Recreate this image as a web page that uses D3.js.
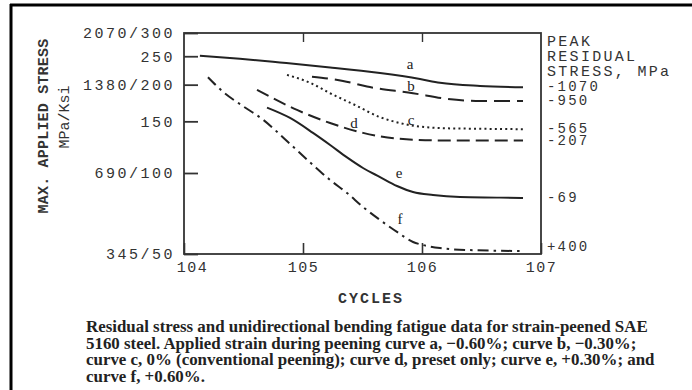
<!DOCTYPE html>
<html>
<head>
<meta charset="utf-8">
<script src="https://cdn.jsdelivr.net/npm/d3@7"></script>
<style>
  html, body { margin: 0; padding: 0; background: #fff; }
  svg { display: block; }
  .mono { font-family: "Liberation Mono", "DejaVu Sans Mono", monospace; fill: #333; }
  .serif { font-family: "Liberation Serif", "DejaVu Serif", serif; fill: #222; }
</style>
</head>
<body>
<svg id="chart" width="692" height="390"></svg>
<script>
// ---------- data ----------
const xTickVals = [1e4, 1e5, 1e6, 1e7];
const xTickLabels = ["104", "105", "106", "107"];
const yTickVals = [300, 250, 200, 150, 100, 50];
const yTickLabels = ["2070/300", "250", "1380/200", "150", "690/100", "345/50"];
const residualLabels = ["-1070", "-950", "-565", "-207", "-69", "+400"];
const curveNames = ["a", "b", "c", "d", "e", "f"];

// [cycles, max applied stress (ksi)]
const curveA = [[13600,251],[29500,245],[64000,238],[169000,229],[444000,219],[962000,209],[1416000,203],[3070000,198],[7060000,196]];
const curveB = [[119000,213],[216900,206],[344900,197],[840500,187],[1622000,179],[3070000,176],[7060000,176]];
const curveC = [[73400,216],[114500,203],[169000,187],[273500,170.5],[444000,155],[653500,148],[840500,145],[1622000,142],[3070000,141.5],[7060000,141]];
const curveD = [[41070,192],[89000,164],[169000,148],[319300,137],[616600,131],[1622000,129],[7060000,129]];
const curveE = [[49840,167],[77800,154],[121300,137],[169000,124.6],[234300,113],[319300,104],[444000,96.6],[616600,89.5],[840500,85],[1237000,82.8],[2086000,81.4],[4520000,81],[7060000,80.7]];
const curveF = [[15900,212],[21300,189],[31320,169],[46100,152],[74800,127.5],[121300,106.5],[169000,94.2],[234300,84.3],[319300,74.8],[444000,66.9],[616600,60.4],[840500,55.4],[1019500,54],[1416000,52.6],[2530000,51.7],[7060000,51.3]];
const curves = [curveA, curveB, curveC, curveD, curveE, curveF];

// curve letter anchors [cycles, stress]
const letterAnchors = [[793000,226],[808700,190],[808700,146],[268300,142],[641000,95.8],[653500,64.6]];

// ---------- drawing ----------
const svg = d3.select("#chart");
const pLeft = 184, pRight = 541, pTop = 33, pBottom = 254;

const x = d3.scaleLog().domain([1e4, 1e7]).range([pLeft, pRight]);
const y = d3.scaleLog().domain([50, 100, 300]).range([pBottom, 173, pTop]);

// outer frame
svg.append("line").attr("x1", 11).attr("x2", 11).attr("y1", 4).attr("y2", 390)
  .attr("stroke", "#000").attr("stroke-width", 3);
svg.append("line").attr("x1", 10).attr("x2", 692).attr("y1", 5).attr("y2", 5)
  .attr("stroke", "#000").attr("stroke-width", 3);

// plot box
svg.append("rect").attr("x", pLeft).attr("y", pTop)
  .attr("width", pRight - pLeft).attr("height", pBottom - pTop)
  .attr("fill", "none").attr("stroke", "#333").attr("stroke-width", 1.8);

// left axis (inward ticks)
const yAxis = d3.axisLeft(y).tickValues(yTickVals).tickSize(-14).tickPadding(9)
  .tickFormat((d, i) => yTickLabels[i]);
const gy = svg.append("g").attr("transform", `translate(${pLeft},0)`).call(yAxis);
gy.select(".domain").remove();
gy.selectAll(".tick line").attr("stroke", "#333").attr("stroke-width", 1.8);
gy.selectAll(".tick text").attr("class", "mono").attr("font-size", 15)
  .attr("letter-spacing", 2.5).attr("fill", "#333");

// bottom axis
const xAxis = d3.axisBottom(x).tickValues(xTickVals).tickSize(-11).tickPadding(7)
  .tickFormat((d, i) => xTickLabels[i]);
const gx = svg.append("g").attr("transform", `translate(0,${pBottom})`).call(xAxis);
gx.select(".domain").remove();
gx.selectAll(".tick line").attr("stroke", "#333").attr("stroke-width", 1.6);
gx.selectAll(".tick text").attr("class", "mono").attr("font-size", 15)
  .attr("letter-spacing", 1.5).attr("fill", "#333")
  .attr("dx", (d, i) => i === 0 ? 8 : 0);

// top axis ticks
const xTop = d3.axisTop(x).tickValues([1e5, 1e6]).tickSize(-9).tickFormat("");
const gt = svg.append("g").attr("transform", `translate(0,${pTop})`).call(xTop);
gt.select(".domain").remove();
gt.selectAll(".tick line").attr("stroke", "#333").attr("stroke-width", 1.4);

// curves
const styles = [
  { dash: null, w: 2 },
  { dash: "16,7", w: 2 },
  { dash: "2,3.2", w: 2 },
  { dash: "13,6", w: 2 },
  { dash: null, w: 2 },
  { dash: "11,5,2.5,5", w: 2 }
];
const line = d3.line().x(d => x(d[0])).y(d => y(d[1])).curve(d3.curveMonotoneX);
curves.forEach((c, i) => {
  svg.append("path").attr("d", line(c)).attr("fill", "none")
    .attr("stroke", "#222").attr("stroke-width", styles[i].w)
    .attr("stroke-dasharray", styles[i].dash);
});

// curve letters
svg.selectAll(".letter").data(letterAnchors).join("text")
  .attr("class", "serif letter")
  .attr("x", d => x(d[0])).attr("y", d => y(d[1]))
  .attr("text-anchor", "middle").attr("font-size", 15)
  .text((d, i) => curveNames[i]);

// right residual stress labels
svg.selectAll(".res").data(curves).join("text")
  .attr("class", "mono res")
  .attr("x", 547)
  .attr("y", d => Math.min(y(d[d.length - 1][1]), pBottom - 7))
  .attr("dominant-baseline", "central")
  .attr("font-size", 14).attr("letter-spacing", 2.2)
  .text((d, i) => residualLabels[i]);

// right header
const header = ["PEAK", "RESIDUAL", "STRESS, MPa"];
svg.selectAll(".hdr").data(header).join("text")
  .attr("class", "mono hdr")
  .attr("x", 547).attr("y", (d, i) => 42 + i * 15.3)
  .attr("dominant-baseline", "central")
  .attr("font-size", 15).attr("letter-spacing", 2.3)
  .text(d => d);

// axis titles
svg.append("text").attr("class", "mono")
  .attr("transform", "translate(44,126) rotate(-90)")
  .attr("text-anchor", "middle").attr("dominant-baseline", "central")
  .attr("font-size", 15).attr("font-weight", "bold").attr("letter-spacing", 0.2)
  .text("MAX. APPLIED STRESS");
svg.append("text").attr("class", "mono")
  .attr("transform", "translate(65,117) rotate(-90)")
  .attr("text-anchor", "middle").attr("dominant-baseline", "central")
  .attr("font-size", 15).attr("letter-spacing", 0)
  .text("MPa/Ksi");
svg.append("text").attr("class", "mono")
  .attr("x", 371).attr("y", 299)
  .attr("text-anchor", "middle").attr("dominant-baseline", "central")
  .attr("font-size", 15).attr("font-weight", "bold").attr("letter-spacing", 2)
  .text("CYCLES");

// caption
const caption = [
  "Residual stress and unidirectional bending fatigue data for strain-peened SAE",
  "5160 steel. Applied strain during peening curve a, \u22120.60%; curve b, \u22120.30%;",
  "curve c, 0% (conventional peening); curve d, preset only; curve e, +0.30%; and",
  "curve f, +0.60%."
];
svg.selectAll(".cap").data(caption).join("text")
  .attr("class", "serif cap")
  .attr("x", 86).attr("y", (d, i) => 332 + i * 16.6)
  .attr("font-size", 16.9).attr("font-weight", "bold")
  .text(d => d);
</script>
</body>
</html>
